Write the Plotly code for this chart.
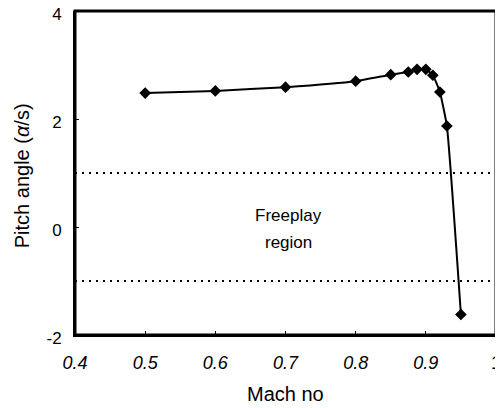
import plotly.graph_objects as go

mach = [0.5, 0.6, 0.7, 0.8, 0.85, 0.875, 0.8875, 0.9, 0.91, 0.92, 0.93, 0.95]
pitch = [2.48, 2.52, 2.59, 2.70, 2.82, 2.87, 2.92, 2.92, 2.81, 2.50, 1.87, -1.62]
freeplay_bounds = [1.0, -1.0]
x_ticks = [0.4, 0.5, 0.6, 0.7, 0.8, 0.9, 1.0]
x_tick_labels = ["<i>0.4</i>", "<i>0.5</i>", "<i>0.6</i>", "<i>0.7</i>", "<i>0.8</i>", "<i>0.9</i>", "1"]
y_ticks = [-2, 0, 2, 4]
y_tick_labels = ["-2", "0", "2", "4"]

FONT = "Liberation Sans"

fig = go.Figure()
for b in freeplay_bounds:
    fig.add_trace(go.Scatter(x=[0.4, 1.0], y=[b, b], mode="lines",
                             line=dict(color="black", width=2, dash="2px,5px"),
                             showlegend=False, hoverinfo="skip"))
fig.add_trace(go.Scatter(x=mach, y=pitch, mode="lines+markers",
                         line=dict(color="black", width=2, shape="spline", smoothing=0.4),
                         marker=dict(symbol="diamond", size=9, color="black"),
                         showlegend=False))

fig.add_annotation(x=0.7036, y=0.22, text="Freeplay", showarrow=False,
                   font=dict(size=17, color="black", family=FONT))
fig.add_annotation(x=0.7036, y=-0.28, text="region", showarrow=False,
                   font=dict(size=17, color="black", family=FONT))

# axis titles
fig.add_annotation(xref="paper", yref="paper", x=0.5, y=0, yanchor="top",
                   yshift=-46, text="Mach no", showarrow=False,
                   font=dict(size=20, color="black", family=FONT))
fig.add_annotation(xref="paper", yref="paper", x=0, y=0.49, xanchor="center",
                   xshift=-53, textangle=-90, text="Pitch angle (<i>α</i>/s)",
                   showarrow=False, font=dict(size=20, color="black", family=FONT))

# frame
fig.add_shape(type="rect", xref="paper", yref="paper", x0=0, y0=0, x1=1, y1=1,
              line=dict(color="#000000", width=3), layer="above")

fig.update_layout(
    width=495, height=400,
    margin=dict(l=67, r=7, t=3, b=73),
    paper_bgcolor="white", plot_bgcolor="white",
    font=dict(family=FONT, color="black", size=18),
)
fig.update_xaxes(range=[0.4, 1.0], tickvals=x_ticks, ticktext=x_tick_labels,
                 showgrid=False, zeroline=False, showline=True, linecolor="black",
                 linewidth=2, ticks="inside", ticklen=4, tickcolor="black",
                 automargin=False, ticklabelstandoff=10, ticklabeloverflow="allow")
fig.update_yaxes(range=[-2, 4], tickvals=y_ticks, ticktext=y_tick_labels,
                 showgrid=False, zeroline=False, showline=True, linecolor="black",
                 linewidth=2, ticks="inside", ticklen=4, tickcolor="black",
                 tickfont=dict(size=17), ticklabelshift=3,
                 automargin=False, ticklabelstandoff=8, ticklabeloverflow="allow")

fig.write_html("out.html")
